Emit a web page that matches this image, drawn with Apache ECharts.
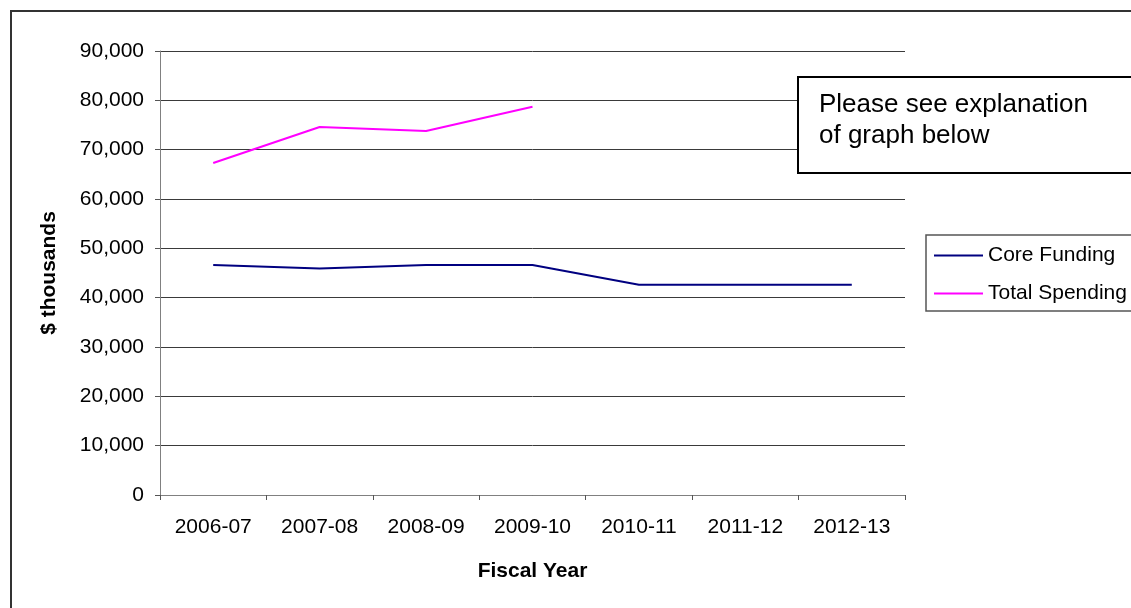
<!DOCTYPE html>
<html>
<head>
<meta charset="utf-8">
<title>Core Funding vs Total Spending</title>
<script src="https://cdn.jsdelivr.net/npm/echarts@6/dist/echarts.min.js"></script>
<style>
	html, body { margin: 0; padding: 0; background: #fff; }
	#main { width: 1131px; height: 608px; }
</style>
</head>
<body>
<div id="main"></div>
<script>
	var fiscalYears = ['2006-07', '2007-08', '2008-09', '2009-10', '2010-11', '2011-12', '2012-13'];
	var coreFunding = [46600, 45900, 46600, 46600, 42600, 42600, 42600];
	var totalSpending = [67300, 74600, 73800, 78700, null, null, null];
	var yTicks = [0, 10000, 20000, 30000, 40000, 50000, 60000, 70000, 80000, 90000];

	var font = 'Arial, "Liberation Sans", sans-serif';

	var myChart = echarts.init(document.getElementById('main'));

	myChart.setOption({
		animation: false,
		backgroundColor: '#fff',
		grid: { left: 160, right: 226, top: 51, bottom: 113 },
		legend: {
			orient: 'vertical',
			left: 934,
			top: 245,
			padding: 0,
			itemGap: 17,
			itemWidth: 49,
			itemHeight: 2,
			icon: 'rect',
			textStyle: { fontFamily: font, fontSize: 21, lineHeight: 21, color: '#000' },
			data: ['Core Funding', 'Total Spending']
		},
		xAxis: {
			type: 'category',
			data: fiscalYears,
			boundaryGap: true,
			name: 'Fiscal Year',
			nameLocation: 'middle',
			nameGap: 66,
			nameTextStyle: { fontFamily: font, fontSize: 21, fontWeight: 'bold', color: '#000' },
			axisLine: { lineStyle: { color: '#808080', width: 1 } },
			axisTick: { show: true, length: 5, lineStyle: { color: '#555' } },
			axisLabel: { margin: 22, fontFamily: font, fontSize: 21, color: '#000' }
		},
		yAxis: {
			type: 'value',
			min: yTicks[0],
			max: yTicks[yTicks.length - 1],
			interval: yTicks[1] - yTicks[0],
			name: '$ thousands',
			nameLocation: 'middle',
			nameGap: 100,
			nameRotate: 90,
			nameTextStyle: { fontFamily: font, fontSize: 21, fontWeight: 'bold', color: '#000' },
			axisLine: { show: true, lineStyle: { color: '#808080', width: 1 } },
			axisTick: { show: true, length: 5, lineStyle: { color: '#555' } },
			axisLabel: {
				margin: 16,
				fontFamily: font,
				fontSize: 21,
				color: '#000',
				formatter: function (v) { return v.toLocaleString('en-US'); }
			},
			splitLine: { show: true, lineStyle: { color: '#3a3a3a', width: 1 } }
		},
		series: [
			{
				name: 'Core Funding',
				type: 'line',
				data: coreFunding,
				showSymbol: false,
				symbol: 'none',
				color: '#000080',
				lineStyle: { color: '#000080', width: 2 }
			},
			{
				name: 'Total Spending',
				type: 'line',
				data: totalSpending,
				showSymbol: false,
				symbol: 'none',
				color: '#ff00ff',
				lineStyle: { color: '#ff00ff', width: 2 }
			}
		],
		graphic: [
			{
				type: 'rect',
				z: 100,
				shape: { x: 11, y: 11, width: 1200, height: 700 },
				style: { fill: 'none', stroke: '#333', lineWidth: 2 }
			},
			{
				type: 'rect',
				z: 100,
				shape: { x: 926, y: 235, width: 300, height: 76 },
				style: { fill: 'none', stroke: '#555', lineWidth: 1.5 }
			},
			{
				type: 'rect',
				z: 100,
				shape: { x: 798, y: 77, width: 400, height: 96 },
				style: { fill: '#fff', stroke: '#000', lineWidth: 2 }
			},
			{
				type: 'text',
				z: 101,
				left: 819,
				top: 89,
				style: {
					text: 'Please see explanation\nof graph below',
					font: '26px ' + font,
					lineHeight: 31,
					fill: '#000'
				}
			}
		]
	});
</script>
</body>
</html>
